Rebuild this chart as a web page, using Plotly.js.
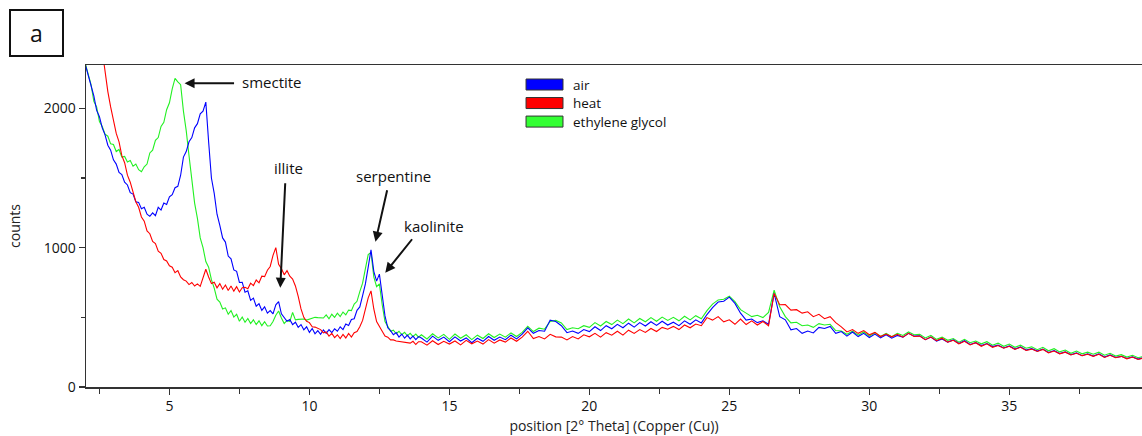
<!DOCTYPE html>
<html>
<head>
<meta charset="utf-8">
<script src="https://cdn.plot.ly/plotly-3.0.1.min.js"></script>
<style>html,body{margin:0;padding:0;background:#fff;}#chart{width:1142px;height:436px;}</style>
</head>
<body>
<div id="chart"></div>
<script>
// 2θ positions (°), fine step in the low-angle region, coarser above 14°
const X_LOW = [2.0,2.1,2.2,2.3,2.4,2.5,2.6,2.7,2.8,2.9,3.0,3.1,3.2,3.3,3.4,3.5,3.6,3.7,3.8,3.9,4.0,4.1,4.2,4.3,4.4,4.5,4.6,4.7,4.8,4.9,5.0,5.1,5.2,5.3,5.4,5.5,5.6,5.7,5.8,5.9,6.0,6.1,6.2,6.3,6.4,6.5,6.6,6.7,6.8,6.9,7.0,7.1,7.2,7.3,7.4,7.5,7.6,7.7,7.8,7.9,8.0,8.1,8.2,8.3,8.4,8.5,8.6,8.7,8.8,8.9,9.0,9.1,9.2,9.3,9.4,9.5,9.6,9.7,9.8,9.9,10.0,10.1,10.2,10.3,10.4,10.5,10.6,10.7,10.8,10.9,11.0,11.1,11.2,11.3,11.4,11.5,11.6,11.7,11.8,11.9,12.0,12.1,12.2,12.3,12.4,12.5,12.6,12.7,12.8,12.9,13.0,13.1,13.2,13.3,13.4,13.5,13.6,13.7,13.8,13.9];
const X_HIGH = [14.0,14.2,14.4,14.6,14.8,15.0,15.2,15.4,15.6,15.8,16.0,16.2,16.4,16.6,16.8,17.0,17.2,17.4,17.6,17.8,18.0,18.2,18.4,18.6,18.8,19.0,19.2,19.4,19.6,19.8,20.0,20.2,20.4,20.6,20.8,21.0,21.2,21.4,21.6,21.8,22.0,22.2,22.4,22.6,22.8,23.0,23.2,23.4,23.6,23.8,24.0,24.2,24.4,24.6,24.8,25.0,25.2,25.4,25.6,25.8,26.0,26.2,26.4,26.6,26.8,27.0,27.2,27.4,27.6,27.8,28.0,28.2,28.4,28.6,28.8,29.0,29.2,29.4,29.6,29.8,30.0,30.2,30.4,30.6,30.8,31.0,31.2,31.4,31.6,31.8,32.0,32.2,32.4,32.6,32.8,33.0,33.2,33.4,33.6,33.8,34.0,34.2,34.4,34.6,34.8,35.0,35.2,35.4,35.6,35.8,36.0,36.2,36.4,36.6,36.8,37.0,37.2,37.4,37.6,37.8,38.0,38.2,38.4,38.6,38.8,39.0,39.2,39.4,39.6,39.8];

// air (counts)
const AIR_LOW = [2310,2230,2160,2090,1985,1940,1860,1810,1735,1700,
 1630,1600,1540,1525,1470,1450,1395,1385,1330,1325,
 1280,1290,1240,1225,1250,1230,1290,1270,1320,1310,
 1365,1380,1430,1440,1520,1650,1690,1760,1790,1860,
 1890,1960,1980,2045,1760,1500,1390,1240,1160,1070,
 1040,940,920,840,830,750,752,680,690,622,
 638,580,598,550,575,530,548,525,590,612,
 525,502,472,485,448,465,428,448,410,432,
 392,420,382,405,378,410,385,412,390,418,
 400,432,412,452,442,485,490,550,575,655,
 740,860,985,830,760,810,640,510,425,405,
 375,390,358,380,350,372,345,365,340,362];
const AIR_HIGH = [352,322,365,335,358, 325,360,330,352,318, 350,328,362,335,358, 340,372,345,380,425,
 385,405,400,480,470, 440,390,402,385,412, 398,432,405,440,418, 450,425,458,430,462,
 438,468,442,472,445, 465,440,475,450,482, 460,520,570,610,615, 645,600,530,480,488,
 462,475,450,672,505, 482,410,420,385,402, 388,428,420,435,385, 398,365,395,362,385,
 355,380,352,375,350, 370,358,385,365,368, 340,358,330,345,322, 338,312,332,305,318,
 298,312,290,300,280, 295,272,288,265,275, 258,272,248,262,240, 252,232,245,225,238,
 222,238,215,230,212, 220,205,216,200,210];

// heat (counts)
const HEAT_LOW = [3300,3150,3000,2850,2700,2540,2390,2230,2120,2010,
 1925,1820,1760,1660,1610,1520,1470,1400,1330,1290,
 1220,1190,1120,1100,1045,1030,975,960,915,905,
 870,860,820,835,790,770,760,735,750,725,
 740,722,778,845,790,742,752,712,742,702,
 732,692,725,688,720,682,712,715,705,745,
 728,768,748,795,792,838,865,945,1000,880,
 850,805,835,795,775,725,650,560,500,472,
 462,432,430,420,412,388,395,365,385,355,
 375,348,378,352,385,358,390,398,432,478,
 560,640,690,560,470,430,400,365,358,338,
 338,330,328,322,320,318,315,328,305,325];
const HEAT_HIGH = [325,300,332,305,328, 308,330,302,335,310, 330,308,340,315,338, 322,352,328,358,400,
 348,362,345,378,360, 358,338,362,345,375, 360,385,358,390,372, 400,372,408,385,412,
 392,420,398,428,415, 435,412,445,425,452, 440,498,480,505,468, 482,450,488,448,475,
 445,470,440,672,590, 592,552,555,530,540, 505,522,490,505,462, 432,395,412,385,405,
 375,392,362,380,360, 378,358,385,362,365, 340,358,332,350,322, 335,310,328,302,318,
 292,310,285,298,278, 292,270,285,262,272, 255,270,245,258,238, 250,230,242,225,235,
 220,235,212,228,210, 220,202,215,198,208];

// ethylene glycol (counts)
const EG_LOW = [2318,2240,2170,2050,2010,1905,1870,1815,1800,1745,
 1740,1690,1705,1650,1655,1615,1625,1585,1600,1560,
 1545,1580,1600,1680,1700,1770,1790,1870,1900,1990,
 2040,2140,2215,2190,2170,1980,1840,1660,1490,1320,
 1210,1070,1000,900,860,770,710,630,610,560,
 568,522,548,502,522,472,502,465,492,455,
 482,448,475,440,468,438,440,470,515,545,
 495,455,478,470,535,482,485,485,488,480,
 485,492,500,498,495,495,518,490,522,500,
 530,505,538,518,552,548,595,615,685,745,
 850,950,965,790,720,740,590,470,435,400,
 408,382,400,375,392,368,385,362,380,358];
const EG_HIGH = [375,345,382,352,378, 342,380,350,375,340, 372,348,382,355,380, 358,388,362,392,435,
 398,422,415,470,478, 460,412,425,418,440, 428,462,438,470,448, 480,455,488,460,492,
 468,498,472,502,478, 500,475,508,482,512, 490,548,595,625,630, 652,612,555,530,505,
 515,498,535,695,575, 505,460,465,440,445, 428,455,445,450,405, 402,378,400,372,395,
 365,390,362,385,360, 385,370,395,375,378, 352,370,342,358,335, 348,322,342,318,330,
 310,325,300,315,292, 308,285,300,278,288, 268,285,260,275,252, 265,242,258,238,250,
 235,250,228,242,222, 232,215,228,210,220];

const SERIES_NAMES = ['air', 'heat', 'ethylene glycol'];
const PEAK_LABELS = ['smectite', 'illite', 'serpentine', 'kaolinite'];
const X_TICKS = [5, 10, 15, 20, 25, 30, 35];
const Y_TICKS = [0, 1000, 2000];

const X = X_LOW.concat(X_HIGH);
const AIR = AIR_LOW.concat(AIR_HIGH);
const HEAT = HEAT_LOW.concat(HEAT_HIGH);
const EG = EG_LOW.concat(EG_HIGH);

const COLORS = ['#0000ff', '#ff0000', '#22f022'];
const SWATCH = ['#0000ff', '#ff0000', '#33ff33'];
const FONT = '"Open Sans", "Noto Sans", sans-serif';

const lineTrace = (y, c, name) => ({
  x: X, y: y, type: 'scatter', mode: 'lines', name: name,
  line: {color: c, width: 1.1}, showlegend: false, hoverinfo: 'skip'
});

const data = [
  lineTrace(EG, COLORS[2], SERIES_NAMES[2]),
  lineTrace(AIR, COLORS[0], SERIES_NAMES[0]),
  lineTrace(HEAT, COLORS[1], SERIES_NAMES[1])
];

const txt = (x, y, t) => ({x: x, y: y, xref: 'x', yref: 'y', text: t, showarrow: false,
  font: {family: FONT, size: 15, color: '#111'}});
const arr = (x, y, ax, ay) => ({x: x, y: y, xref: 'x', yref: 'y', text: '', showarrow: true,
  ax: ax, ay: ay, arrowhead: 2, arrowsize: 1, arrowwidth: 2, arrowcolor: '#111', standoff: 0});

// hand-drawn legend (swatch boxes + labels), in paper coordinates
const LEG_X0 = 0.4167, LEG_X1 = 0.4517, LEG_TX = 0.4592;
const LEG_ROWS = [[0.9223, 0.9565, 0.9394], [0.8648, 0.8990, 0.8819], [0.8072, 0.8414, 0.8244]];
const legShapes = LEG_ROWS.map((r, i) => ({type: 'rect', xref: 'paper', yref: 'paper',
  x0: LEG_X0, x1: LEG_X1, y0: r[0], y1: r[1], fillcolor: SWATCH[i], line: {color: '#333', width: 1}}));
const legText = LEG_ROWS.map((r, i) => ({xref: 'paper', yref: 'paper', x: LEG_TX, y: r[2],
  xanchor: 'left', yanchor: 'middle', showarrow: false, text: SERIES_NAMES[i],
  font: {family: FONT, size: 13.5, color: '#111'}}));

const layout = {
  width: 1142, height: 436,
  margin: {l: 86, r: 0, t: 65, b: 49},
  paper_bgcolor: '#fff', plot_bgcolor: '#fff',
  font: {family: FONT, size: 14, color: '#111'},
  showlegend: false,
  xaxis: {range: [2.02, 39.74], tickvals: X_TICKS, ticks: 'outside', ticklen: 6, tickwidth: 1.2,
    tickcolor: '#333', showline: true, linecolor: '#333', linewidth: 1.5, mirror: true,
    showgrid: false, zeroline: false,
    minor: {dtick: 2.5, tick0: 0, ticks: 'outside', ticklen: 5, tickwidth: 1.2, tickcolor: '#333', showgrid: false},
    tickfont: {family: FONT, size: 14, color: '#111'},
    title: {text: 'position [2° Theta] (Copper (Cu))', standoff: 7, font: {family: FONT, size: 14, color: '#222'}}},
  yaxis: {range: [0, 2311], tickvals: Y_TICKS, ticks: 'outside', ticklen: 6, tickwidth: 1.2,
    tickcolor: '#333', showline: true, linecolor: '#333', linewidth: 1.5,
    showgrid: false, zeroline: false,
    minor: {dtick: 500, tick0: 0, ticks: 'outside', ticklen: 4, tickwidth: 1.2, tickcolor: '#333', showgrid: false},
    tickfont: {family: FONT, size: 14, color: '#111'},
    title: {text: 'counts', standoff: 20, font: {family: FONT, size: 14, color: '#222'}}},
  shapes: legShapes,
  annotations: [
    {xref: 'paper', yref: 'paper', x: -0.0473, y: 1.099, xanchor: 'center', yanchor: 'middle',
     text: 'a', showarrow: false, width: 51, height: 44, bordercolor: '#111', borderwidth: 2, borderpad: 0,
     font: {family: FONT, size: 23, color: '#111'}},
    txt(8.67, 2189, PEAK_LABELS[0]), arr(5.54, 2180, 51, 0),
    txt(9.24, 1571, PEAK_LABELS[1]), arr(8.96, 712, 5, -106),
    txt(12.99, 1514, PEAK_LABELS[2]), arr(12.36, 1043, 12, -53),
    txt(14.45, 1154, PEAK_LABELS[3]), arr(12.71, 820, 28, -35)
  ].concat(legText)
};

Plotly.newPlot('chart', data, layout, {displayModeBar: false, staticPlot: true});
</script>
</body>
</html>
